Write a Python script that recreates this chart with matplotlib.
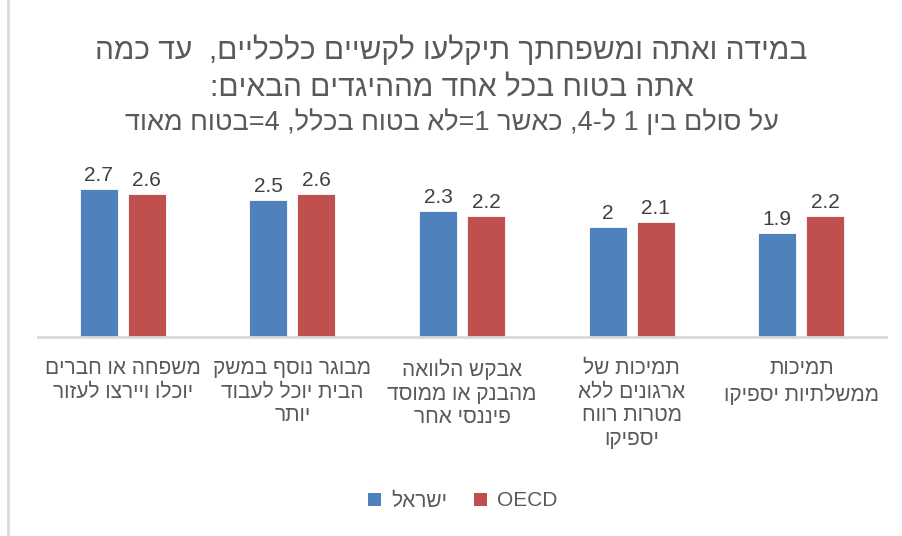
import re
import numpy as np
import matplotlib
matplotlib.use("Agg")
import matplotlib.pyplot as plt
from matplotlib.patches import Patch

plt.rcParams['font.family'] = ['Liberation Sans', 'DejaVu Sans']

# ---- data (logical Hebrew order) ----
title_main = ["במידה ואתה ומשפחתך תיקלעו לקשיים כלכליים,  עד כמה",
              "אתה בטוח בכל אחד מההיגדים הבאים:"]
title_sub = "על סולם בין 1 ל-4, כאשר 1=לא בטוח בכלל, 4=בטוח מאוד"
categories = [
    ["משפחה או חברים", "יוכלו ויירצו לעזור"],
    ["מבוגר נוסף במשק", "הבית יוכל לעבוד", "יותר"],
    ["אבקש הלוואה", "מהבנק או ממוסד", "פיננסי אחר"],
    ["תמיכות של", "ארגונים ללא", "מטרות רווח", "יספיקו"],
    ["תמיכות", "ממשלתיות יספיקו"],
]
series_names = ["ישראל", "OECD"]
israel = [2.7, 2.5, 2.3, 2.0, 1.9]
oecd = [2.6, 2.6, 2.2, 2.1, 2.2]
colors = ["#4F81BD", "#C0504D"]


def vis(s):
    """Convert logical RTL text to visual order for left-to-right rendering."""
    r = s[::-1]
    return re.sub(r'[0-9A-Za-z.]+', lambda m: m.group(0)[::-1], r)


W, H = 903, 536
fig = plt.figure(figsize=(W / 100, H / 100), dpi=100)
ax = fig.add_axes([38 / W, (H - 337) / H, (886 - 38) / W, 165 / H])

x = np.arange(len(categories))
bw = 0.224
off = 0.1415
for vals, c, o in zip([israel, oecd], colors, [-off, off]):
    bars = ax.bar(x + o, vals, width=bw, color=c, edgecolor="#FFFFFF",
                  linewidth=0.6)
    for b, v in zip(bars, vals):
        ax.text(b.get_x() + b.get_width() / 2, v + 0.07, f"{v:g}",
                ha="center", va="bottom", fontsize=15, color="#404040")

ax.set_xlim(-0.5, len(categories) - 0.5)
ax.set_ylim(0, 3)
for s in ["top", "right", "left"]:
    ax.spines[s].set_visible(False)
ax.spines["bottom"].set_color("#D9D9D9")
ax.spines["bottom"].set_linewidth(2)
ax.set_yticks([])
ax.set_xticks(x)
ax.set_xticklabels(["\n".join(vis(l) for l in cat) for cat in categories],
                   fontsize=15, color="#595959", linespacing=1.3,
                   va="top", ha="center", multialignment="center")
ax.tick_params(axis="x", length=0, pad=16)

# title
for line, yc in zip(title_main, [50, 88]):
    fig.text(0.5, 1 - yc / H, vis(line), ha="center", va="center",
             fontsize=21.5, color="#595959")
fig.text(0.5, 1 - 123 / H, vis(title_sub), ha="center", va="center",
         fontsize=19.5, color="#595959")

# legend
handles = [Patch(facecolor=c) for c in colors]
fig.legend(handles, [vis(n) for n in series_names], loc="center",
           bbox_to_anchor=(463 / W, 1 - 501 / H), ncol=2, frameon=False,
           fontsize=15, handlelength=0.6, handleheight=0.6,
           handletextpad=0.5, columnspacing=1.3, labelcolor="#595959")

# chart border
fig.add_artist(plt.Line2D([8 / W, 8 / W], [0, 1], color="#D9D9D9", lw=2,
                          transform=fig.transFigure))

fig.savefig("out.png", dpi=100, facecolor="white")
